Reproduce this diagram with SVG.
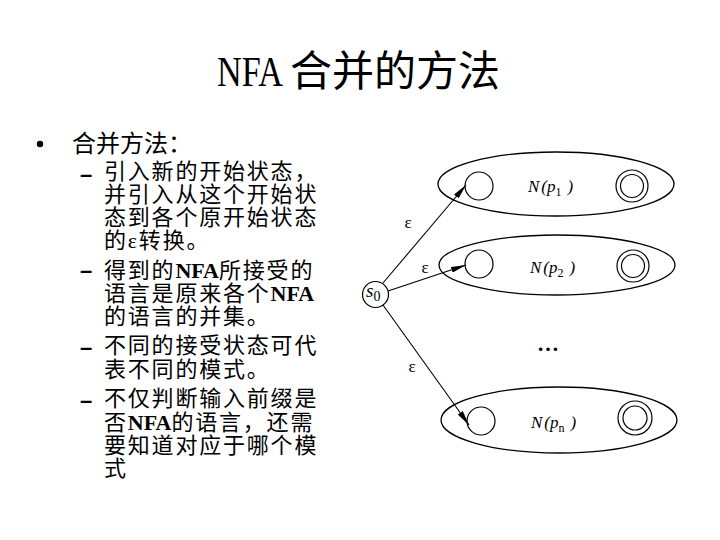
<svg xmlns="http://www.w3.org/2000/svg" width="720" height="540" viewBox="0 0 720 540">
<style>
.title{font-family:"Liberation Serif","Noto Sans CJK SC",serif;font-size:42px;fill:#000}
.l1{font-family:"Liberation Serif","Noto Sans CJK SC",serif;font-size:24px;fill:#000}
.l2{font-family:"Liberation Serif","Noto Sans CJK SC",serif;font-size:22px;letter-spacing:1.8px;fill:#000}
.b{font-weight:bold;letter-spacing:0}
.dash{font-family:"Liberation Sans",sans-serif;font-size:22px;font-weight:bold;fill:#000}
.lab{font-family:"Liberation Serif",serif;font-size:17px;font-style:italic;fill:#000}
.sub{font-size:12px;font-style:normal}
.eps{font-family:"Liberation Serif",serif;font-size:17px;fill:#000}
.st{fill:none;stroke:#000;stroke-width:1.2}
.el{fill:none;stroke:#000;stroke-width:1.3}
.edge{fill:none;stroke:#000;stroke-width:1.1;marker-end:url(#arr)}
</style>
<defs>
<marker id="arr" viewBox="0 0 15 6" refX="15" refY="3" markerWidth="15" markerHeight="6" markerUnits="userSpaceOnUse" orient="auto">
<path d="M0,0 L15,3 L0,6 Z" fill="#000"/>
</marker>
</defs>
<g id="title">
<text class="title" x="217" y="86" textLength="66" lengthAdjust="spacingAndGlyphs">NFA</text>
<text class="title" x="290" y="86">合并的方法</text>
</g>
<g id="text">
<circle cx="40" cy="144" r="3.2" fill="#000"/>
<text class="l1" x="72" y="152">合并方法：</text>
<text class="dash" x="80" y="182">–</text>
<text class="l2" x="104" y="179">引入新的开始状态，</text>
<text class="l2" x="104" y="202">并引入从这个开始状</text>
<text class="l2" x="104" y="225">态到各个原开始状态</text>
<text class="l2" x="104" y="248">的ε转换。</text>
<text class="dash" x="80" y="278">–</text>
<text class="l2" x="104" y="278">得到的<tspan class="b">NFA</tspan>所接受的</text>
<text class="l2" x="104" y="301">语言是原来各个<tspan class="b">NFA</tspan></text>
<text class="l2" x="104" y="324">的语言的并集。</text>
<text class="dash" x="80" y="355">–</text>
<text class="l2" x="104" y="353">不同的接受状态可代</text>
<text class="l2" x="104" y="377">表不同的模式。</text>
<text class="dash" x="80" y="408">–</text>
<text class="l2" x="104" y="406">不仅判断输入前缀是</text>
<text class="l2" x="104" y="430">否<tspan class="b">NFA</tspan>的语言，还需</text>
<text class="l2" x="104" y="453">要知道对应于哪个模</text>
<text class="l2" x="104" y="476">式</text>
</g>
<g id="s0">
<circle class="st" cx="375.5" cy="294.5" r="13"/>
<text class="lab" x="366" y="297" style="font-size:19px">s<tspan class="sub" dy="4" style="font-size:14px">0</tspan></text>
</g>
<g id="N1">
<ellipse class="el" cx="556" cy="184" rx="118" ry="32"/>
<circle class="st" cx="479" cy="186" r="14"/>
<circle class="st" cx="632" cy="186" r="16"/>
<circle class="st" cx="632" cy="186" r="11.5"/>
<text class="lab" x="528" y="192">N<tspan dx="2">(</tspan>p<tspan class="sub" dy="4">1</tspan><tspan dy="-4" dx="6">)</tspan></text>
</g>
<g id="N2">
<ellipse class="el" cx="557" cy="265" rx="118" ry="30"/>
<circle class="st" cx="479" cy="264" r="14"/>
<circle class="st" cx="633" cy="266" r="16"/>
<circle class="st" cx="633" cy="266" r="11.5"/>
<text class="lab" x="530" y="273">N<tspan dx="2">(</tspan>p<tspan class="sub" dy="4">2</tspan><tspan dy="-4" dx="6">)</tspan></text>
</g>
<g id="Nn">
<ellipse class="el" cx="559" cy="420" rx="118" ry="33"/>
<circle class="st" cx="481" cy="421" r="14"/>
<circle class="st" cx="635" cy="418" r="17"/>
<circle class="st" cx="635" cy="418" r="12"/>
<text class="lab" x="531" y="428">N<tspan dx="2">(</tspan>p<tspan class="sub" dy="4">n</tspan><tspan dy="-4" dx="6">)</tspan></text>
</g>
<text x="548" y="351" text-anchor="middle" style="font-family:'Liberation Serif',serif;font-size:22px;font-weight:bold">…</text>
<g id="edges">
<line class="edge" x1="383" y1="283" x2="466" y2="185"/>
<line class="edge" x1="388" y1="291" x2="466" y2="265"/>
<line class="edge" x1="383" y1="305" x2="469" y2="425"/>
<text class="eps" x="408" y="228" text-anchor="middle">ε</text>
<text class="eps" x="425" y="273" text-anchor="middle">ε</text>
<text class="eps" x="412" y="372" text-anchor="middle">ε</text>
</g>
</svg>
